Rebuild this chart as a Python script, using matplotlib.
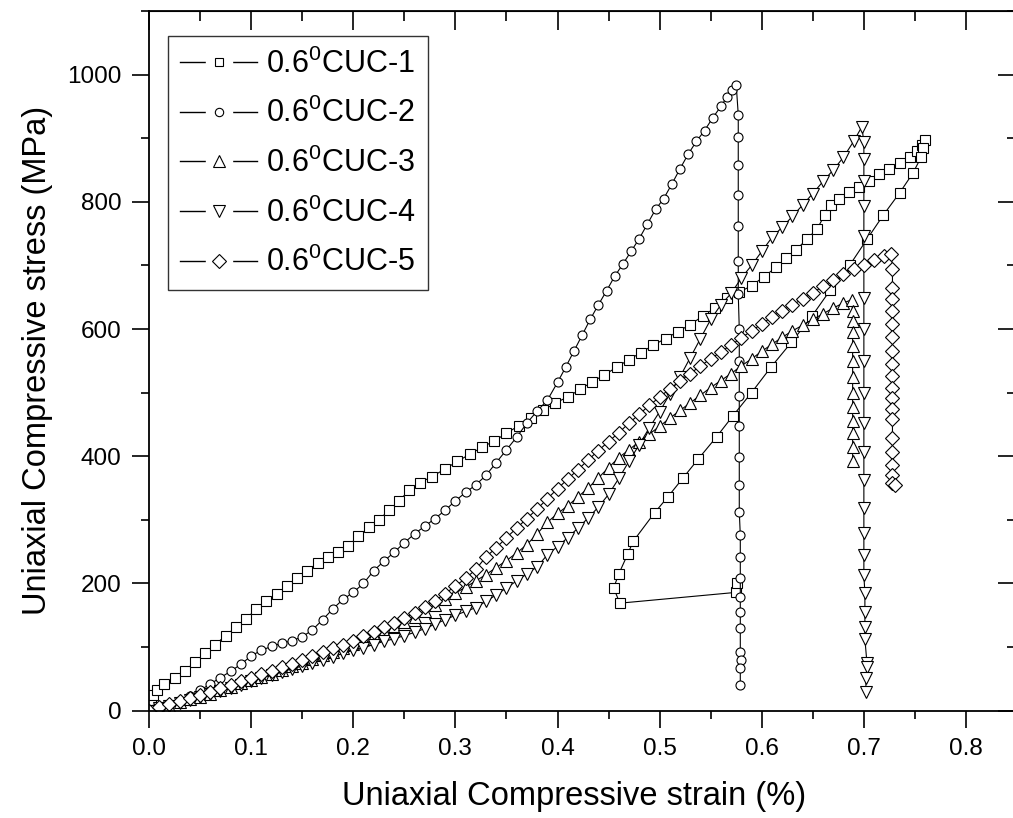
import matplotlib
matplotlib.use("Agg")
import matplotlib.pyplot as plt
from matplotlib.ticker import MultipleLocator
from matplotlib.lines import Line2D
from matplotlib.legend_handler import HandlerTuple

# ==================== DADOS ====================
# CUC-1 : carregamento + descarregamento
x1 = [0.000, 0.002, 0.004, 0.008, 0.015, 0.025, 0.035, 0.045, 0.055, 0.065, 0.075, 0.085, 0.095,
      0.105, 0.115, 0.125, 0.135, 0.145, 0.155, 0.165, 0.175, 0.185, 0.195, 0.205, 0.215, 0.225,
      0.235, 0.245, 0.255, 0.265, 0.277, 0.290, 0.302, 0.314, 0.326, 0.338, 0.350, 0.362, 0.374,
      0.386, 0.398, 0.410, 0.422, 0.434, 0.446, 0.458, 0.470, 0.482, 0.494, 0.506, 0.518, 0.530,
      0.542, 0.554, 0.566, 0.578, 0.590, 0.602, 0.614, 0.624, 0.634, 0.644, 0.654, 0.662, 0.668,
      0.676, 0.685, 0.695, 0.705, 0.715, 0.725, 0.735, 0.745, 0.752, 0.757, 0.760,
      0.758, 0.756, 0.748, 0.735, 0.719, 0.703, 0.686, 0.667, 0.649, 0.629, 0.609, 0.590, 0.572,
      0.556, 0.538, 0.523, 0.508, 0.495, 0.474, 0.469, 0.460, 0.455, 0.461, 0.575, 0.576]
y1 = [0, 15, 25, 33, 42, 52, 63, 76, 90, 104, 118, 131, 144,
      160, 172, 184, 196, 208, 220, 232, 242, 250, 259, 274, 288, 300,
      315, 330, 347, 358, 368, 380, 392, 403, 414, 424, 436, 448, 460,
      472, 484, 493, 505, 517, 528, 540, 552, 563, 575, 585, 596, 607,
      620, 633, 648, 658, 668, 682, 697, 712, 725, 741, 757, 780, 795,
      805, 815, 824, 833, 843, 852, 861, 870, 880, 890, 897,
      885, 870, 845, 814, 779, 741, 700, 661, 620, 579, 540, 500, 464,
      431, 396, 366, 336, 311, 266, 247, 215, 193, 169, 186, 200]

# CUC-2
x2 = [0.000, 0.005, 0.010, 0.020, 0.030, 0.040, 0.050, 0.060, 0.070, 0.080, 0.090, 0.100, 0.110,
      0.120, 0.130, 0.140, 0.150, 0.160, 0.170, 0.180, 0.190, 0.200, 0.210, 0.220, 0.230, 0.240,
      0.250, 0.260, 0.270, 0.280, 0.290, 0.300, 0.310, 0.320, 0.330, 0.340, 0.350, 0.360, 0.370,
      0.380, 0.390, 0.400, 0.408, 0.416, 0.424, 0.432, 0.440, 0.448, 0.456, 0.464, 0.472, 0.480,
      0.488, 0.496, 0.504, 0.512, 0.520, 0.528, 0.536, 0.544, 0.552, 0.560, 0.566, 0.571, 0.575,
      0.577, 0.577, 0.577, 0.577, 0.577, 0.577, 0.577, 0.578, 0.578, 0.578, 0.578, 0.578, 0.578,
      0.578, 0.579, 0.579, 0.579, 0.579, 0.579, 0.579, 0.579, 0.580, 0.579, 0.579]
y2 = [0, 2, 5, 10, 16, 23, 32, 42, 52, 62, 73, 86, 95,
      101, 106, 110, 116, 127, 143, 160, 175, 186, 200, 220, 235, 249,
      264, 278, 290, 302, 315, 330, 343, 355, 370, 390, 410, 430, 452,
      471, 488, 516, 540, 565, 590, 615, 638, 660, 683, 702, 722, 742,
      765, 788, 805, 828, 852, 875, 895, 912, 932, 950, 965, 975, 984,
      937, 902, 858, 811, 762, 707, 655, 600, 549, 494, 448, 399, 355,
      313, 276, 242, 209, 179, 155, 130, 92, 80, 67, 40]

# CUC-3
x3 = [0.000, 0.010, 0.020, 0.030, 0.040, 0.050, 0.060, 0.070, 0.080, 0.090, 0.100, 0.110, 0.120,
      0.130, 0.140, 0.150, 0.160, 0.170, 0.180, 0.190, 0.200, 0.210, 0.220, 0.230, 0.240, 0.250,
      0.260, 0.270, 0.280, 0.290, 0.300, 0.310, 0.320, 0.330, 0.340, 0.350, 0.360, 0.370, 0.380,
      0.390, 0.400, 0.410, 0.420, 0.430, 0.440, 0.450, 0.460, 0.470, 0.480, 0.490, 0.500, 0.510,
      0.520, 0.530, 0.540, 0.550, 0.560, 0.570, 0.580, 0.590, 0.600, 0.610, 0.620, 0.630, 0.640,
      0.650, 0.660, 0.670, 0.680, 0.688,
      0.689, 0.689, 0.689, 0.689, 0.689, 0.689, 0.689, 0.689, 0.689, 0.689, 0.689, 0.689]
y3 = [0, 4, 8, 13, 18, 22, 27, 32, 37, 43, 48, 53, 58,
      64, 70, 75, 81, 87, 93, 99, 105, 112, 119, 126, 133, 140,
      148, 157, 166, 175, 185, 194, 204, 214, 225, 236, 248, 261, 278,
      296, 310, 322, 336, 350, 366, 382, 398, 410, 423, 435, 447, 460,
      472, 484, 496, 508, 519, 530, 542, 553, 565, 576, 587, 597, 606,
      615, 624, 633, 641, 646,
      628, 612, 595, 573, 549, 524, 500, 477, 455, 437, 415, 392]

# CUC-4
x4 = [0.000, 0.010, 0.020, 0.030, 0.040, 0.050, 0.060, 0.070, 0.080, 0.090, 0.100, 0.110, 0.120,
      0.130, 0.140, 0.150, 0.160, 0.170, 0.180, 0.190, 0.200, 0.210, 0.220, 0.230, 0.240, 0.250,
      0.260, 0.270, 0.280, 0.290, 0.300, 0.310, 0.320, 0.330, 0.340, 0.350, 0.360, 0.370, 0.380,
      0.390, 0.400, 0.410, 0.420, 0.430, 0.440, 0.450, 0.460, 0.470, 0.480, 0.490, 0.500, 0.510,
      0.520, 0.530, 0.540, 0.550, 0.560, 0.570, 0.580, 0.590, 0.600, 0.610, 0.620, 0.630, 0.640,
      0.650, 0.660, 0.670, 0.680, 0.690, 0.698,
      0.700, 0.700, 0.700, 0.700, 0.700, 0.700, 0.700, 0.700, 0.700, 0.700, 0.700, 0.700, 0.700,
      0.700, 0.700, 0.700, 0.701, 0.701, 0.701, 0.701, 0.703, 0.703, 0.702, 0.702]
y4 = [0, 4, 8, 12, 17, 22, 26, 31, 36, 41, 46, 51, 56,
      61, 66, 70, 75, 80, 85, 90, 95, 99, 104, 109, 113, 118,
      123, 129, 136, 143, 150, 156, 162, 172, 182, 193, 204, 215, 226,
      245, 258, 272, 287, 303, 320, 340, 365, 392, 418, 445, 470, 498,
      525, 555, 585, 615, 638, 656, 680, 700, 722, 744, 760, 777, 795,
      813, 832, 850, 870, 895, 918,
      894, 867, 833, 793, 746, 648, 600, 549, 500, 453, 407, 363, 319,
      280, 245, 213, 185, 155, 132, 113, 75, 69, 51, 29]

# CUC-5
x5 = [0.000, 0.010, 0.020, 0.030, 0.040, 0.050, 0.060, 0.070, 0.080, 0.090, 0.100, 0.110, 0.120,
      0.130, 0.140, 0.150, 0.160, 0.170, 0.180, 0.190, 0.200, 0.210, 0.220, 0.230, 0.240, 0.250,
      0.260, 0.270, 0.280, 0.290, 0.300, 0.310, 0.320, 0.330, 0.340, 0.350, 0.360, 0.370, 0.380,
      0.390, 0.400, 0.410, 0.420, 0.430, 0.440, 0.450, 0.460, 0.470, 0.480, 0.490, 0.500, 0.510,
      0.520, 0.530, 0.540, 0.550, 0.560, 0.570, 0.580, 0.590, 0.600, 0.610, 0.620, 0.630, 0.640,
      0.650, 0.660, 0.670, 0.680, 0.690, 0.700, 0.710, 0.720, 0.727,
      0.728, 0.728, 0.728, 0.728, 0.728, 0.728, 0.728, 0.728, 0.728, 0.728, 0.728, 0.728, 0.728,
      0.728, 0.728, 0.728, 0.728, 0.728, 0.730]
y5 = [0, 5, 10, 15, 20, 25, 30, 36, 41, 47, 52, 57, 63,
      68, 74, 80, 86, 92, 98, 104, 110, 117, 124, 131, 138, 145,
      154, 163, 173, 184, 196, 208, 222, 242, 256, 272, 287, 302, 317,
      333, 349, 364, 379, 394, 409, 423, 437, 452, 466, 480, 493, 506,
      518, 530, 542, 553, 564, 575, 586, 597, 608, 619, 629, 638, 647,
      657, 667, 677, 686, 694, 701, 709, 715, 718,
      694, 665, 647, 628, 608, 587, 565, 545, 526, 508, 492, 474, 458,
      429, 406, 387, 371, 358, 355]

rotulos = ["0.6$^\\mathrm{0}$CUC-1", "0.6$^\\mathrm{0}$CUC-2", "0.6$^\\mathrm{0}$CUC-3",
           "0.6$^\\mathrm{0}$CUC-4", "0.6$^\\mathrm{0}$CUC-5"]
marcadores = ["s", "o", "^", "v", "D"]

# ==================== ESTILO ====================
plt.rcParams['font.family'] = ['Liberation Sans', 'DejaVu Sans']
plt.rcParams['mathtext.fontset'] = 'custom'
plt.rcParams['mathtext.rm'] = 'Liberation Sans'
plt.rcParams['mathtext.it'] = 'Liberation Sans:italic'

fig = plt.figure(figsize=(10.13, 8.18), dpi=100)
ax = fig.add_axes([0.1471, 0.1312, 0.8569, 0.8554])

tamanhos = [6.5, 6.5, 8.5, 8.5, 7.5]
series = [(x1, y1), (x2, y2), (x3, y3), (x4, y4), (x5, y5)]
handles = []
for (xs, ys), m, ms in zip(series, marcadores, tamanhos):
    ax.plot(xs, ys, color='black', lw=0.8, marker=m, ms=ms, mfc='white',
            mec='black', mew=0.8)
    # simbolo da legenda: linha, "buraco" branco, marcador (sobrepostos)
    linha = Line2D([], [], color='black', lw=1.0)
    buraco = Line2D([], [], ls='none', marker='s', ms=19, mfc='white', mec='white')
    marca = Line2D([], [], ls='none', marker=m, ms=ms - 0.5, mfc='white', mec='black', mew=0.8)
    handles.append((linha, buraco, marca))

ax.set_xlim(0, 0.85)
ax.set_ylim(0, 1100)
ax.xaxis.set_minor_locator(MultipleLocator(0.05))
ax.yaxis.set_minor_locator(MultipleLocator(100))
ax.set_xticks([0, 0.1, 0.2, 0.3, 0.4, 0.5, 0.6, 0.7, 0.8])
ax.set_xticklabels(["0.0", "0.1", "0.2", "0.3", "0.4", "0.5", "0.6", "0.7", "0.8"])
ax.set_yticks([0, 200, 400, 600, 800, 1000])
ax.tick_params(which='major', direction='out', length=12, width=1.2, labelsize=17.5, pad=8)
ax.tick_params(which='minor', direction='out', length=6, width=1.2)
for s in ax.spines.values():
    s.set_linewidth(1.3)

# eixos de cima e da direita com ticks para dentro
topo = ax.secondary_xaxis('top')
topo.xaxis.set_major_locator(MultipleLocator(0.1))
topo.xaxis.set_minor_locator(MultipleLocator(0.05))
topo.tick_params(which='major', direction='in', length=14, width=1.2, labeltop=False)
topo.tick_params(which='minor', direction='in', length=7, width=1.2)
direita = ax.secondary_yaxis('right')
direita.yaxis.set_major_locator(MultipleLocator(200))
direita.yaxis.set_minor_locator(MultipleLocator(100))
direita.tick_params(which='major', direction='in', length=14, width=1.2, labelright=False)
direita.tick_params(which='minor', direction='in', length=7, width=1.2)

ax.set_xlabel("Uniaxial Compressive strain (%)", fontsize=23.5, labelpad=9)
ax.xaxis.set_label_coords(0.49, -0.1)
ax.set_ylabel("Uniaxial Compressive stress (MPa)", fontsize=23.5, labelpad=10)

leg = ax.legend(handles, rotulos, handler_map={tuple: HandlerTuple(ndivide=1)},
                loc='upper left', bbox_to_anchor=(0.022, 0.964), borderaxespad=0,
                fontsize=22, frameon=True, fancybox=False, edgecolor='black',
                handlelength=2.5, handletextpad=0.3, labelspacing=0.6,
                borderpad=0.4, numpoints=1)
leg.get_frame().set_linewidth(1.0)

plt.savefig("out.png", dpi=100)
